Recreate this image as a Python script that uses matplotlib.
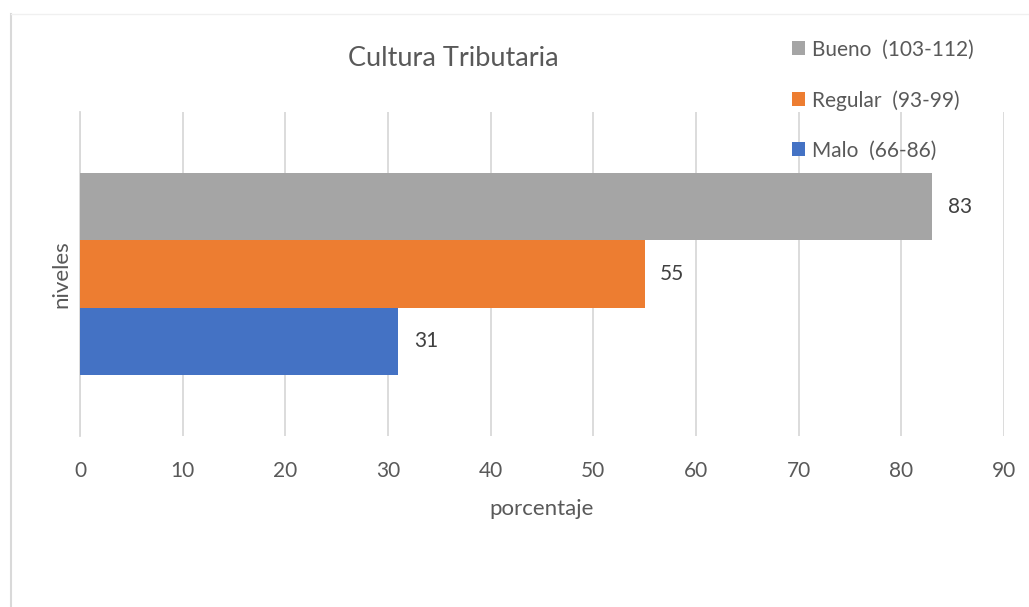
import matplotlib
matplotlib.use('Agg')
import matplotlib.pyplot as plt
from matplotlib.lines import Line2D
from matplotlib.patches import Patch

plt.rcParams['font.family'] = ['Lato', 'DejaVu Sans']

categorias = ['Malo  (66-86)', 'Regular  (93-99)', 'Bueno  (103-112)']
valores = [31, 55, 83]
colores = ['#4472C4', '#ED7D31', '#A5A5A5']
nivel = 'niveles'
ticks_x = [0, 10, 20, 30, 40, 50, 60, 70, 80, 90]

texto = '#595959'
rejilla = '#D9D9D9'

fig = plt.figure(figsize=(10.29, 6.07), dpi=100)
ax = fig.add_axes([80 / 1029, (607 - 436) / 607, 924 / 1029, 324 / 607])

alto = 0.207
for i, (c, v, col) in enumerate(zip(categorias, valores, colores)):
    y = (i - 1) * alto
    ax.barh(y, v, height=alto, color=col, label=c, zorder=3)
    ax.text(v + 1.5, y, str(v), va='center', ha='left', fontsize=15, color='#404040')

ax.set_xlim(0, 90)
ax.set_ylim(-0.5, 0.5)
ax.set_xticks(ticks_x)
ax.set_yticks([])
ax.grid(axis='x', color=rejilla, linewidth=1.3, zorder=0)
for s in ['top', 'right', 'bottom']:
    ax.spines[s].set_visible(False)
ax.spines['left'].set_color(rejilla)
ax.spines['left'].set_linewidth(1.3)
ax.tick_params(axis='x', length=0, pad=18, labelsize=15, labelcolor=texto)
ax.set_xlabel('porcentaje', fontsize=16, color=texto, labelpad=13)
ax.set_ylabel(nivel, fontsize=16, color=texto, labelpad=6)

fig.text(453 / 1029, 1 - 58 / 607, 'Cultura Tributaria', ha='center', va='center',
         fontsize=19.5, color=texto)

handles = [Patch(facecolor=colores[i], label=categorias[i]) for i in [2, 1, 0]]
leg = fig.legend(handles=handles, loc='upper left', bbox_to_anchor=(773 / 1029, 1 - 21 / 607),
                 frameon=False, fontsize=15, labelcolor=texto, handlelength=0.65,
                 handleheight=0.65, handletextpad=0.3, labelspacing=1.45)

# borde del grafico
fig.add_artist(Line2D([11 / 1029, 11 / 1029], [0, 1 - 14 / 607], color=rejilla, linewidth=1.5))
fig.add_artist(Line2D([11 / 1029, 1], [1 - 14 / 607, 1 - 14 / 607], color='#F0F0F0', linewidth=1))

fig.savefig('out.png', dpi=100)
